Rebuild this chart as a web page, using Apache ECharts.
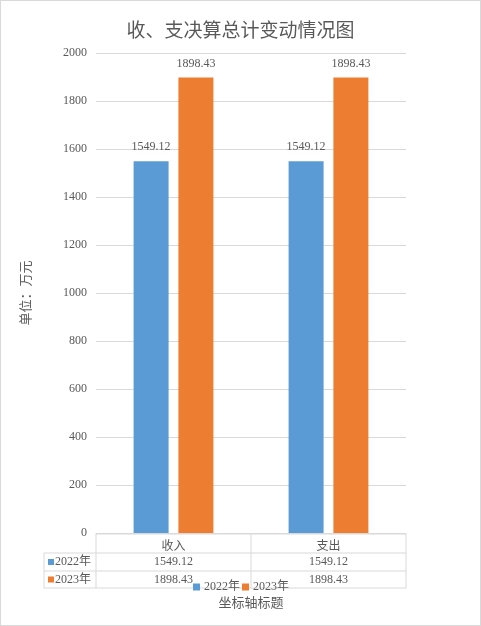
<!DOCTYPE html>
<html><head><meta charset="utf-8">
<script src="https://cdn.jsdelivr.net/npm/echarts@6/dist/echarts.min.js"></script>
<style>html,body{margin:0;padding:0;background:#fff}#c{width:481px;height:626px;box-sizing:border-box;border:1px solid #d9d9d9}</style>
</head><body><div id="c"></div>
<script>
const categories = ['收入', '支出'];
const seriesNames = ['2022年', '2023年'];
const values2022 = [1549.12, 1549.12];
const values2023 = [1898.43, 1898.43];
const yTicks = [0, 200, 400, 600, 800, 1000, 1200, 1400, 1600, 1800, 2000];
const colors = ['#5B9BD5', '#ED7D31'];
const FONT = "Liberation Serif, Noto Sans CJK SC, serif";
const TXT = '#595959';
const LINE = '#D9D9D9';

const chart = echarts.init(document.getElementById('c'));
const labelCfg = {show: true, position: 'top', distance: 8, color: TXT, fontSize: 12, fontFamily: FONT, formatter: p => p.value.toFixed(2)};
chart.setOption({
  animation: false,
  textStyle: {fontFamily: FONT},
  title: {text: '收、支决算总计变动情况图', left: 'center', top: 17, textStyle: {color: TXT, fontSize: 19, fontWeight: 'normal', fontFamily: FONT}},
  legend: {left: 187, top: 575, itemWidth: 7, itemHeight: 7, itemGap: 2, icon: 'rect', textStyle: {color: TXT, fontSize: 12, fontFamily: FONT, padding: [0,0,0,-1]}, data: seriesNames},
  grid: {left: 95, right: 74, top: 52, bottom: 92},
  xAxis: {type: 'category', data: categories, axisLine: {show: true, lineStyle: {color: LINE}}, axisTick: {show: false},
    axisLabel: {color: TXT, fontSize: 12, fontFamily: FONT, margin: 8},
    name: '坐标轴标题', nameLocation: 'middle', nameGap: 64, nameTextStyle: {color: TXT, fontSize: 13, fontFamily: FONT}},
  yAxis: {type: 'value', min: yTicks[0], max: yTicks[yTicks.length-1], interval: yTicks[1]-yTicks[0],
    axisLine: {show: false}, axisTick: {show: false},
    axisLabel: {color: TXT, fontSize: 12, fontFamily: FONT, margin: 9, formatter: v => '{s|' + v + '}',
      rich: {s: {color: TXT, fontSize: 12, fontFamily: 'Liberation Serif'}}},
    splitLine: {lineStyle: {color: LINE}},
    name: '单位：万元', nameLocation: 'middle', nameGap: 63, nameTextStyle: {color: TXT, fontSize: 13, fontFamily: FONT}},
  series: [
    {name: seriesNames[0], type: 'bar', data: values2022, itemStyle: {color: colors[0]}, barWidth: 35, barGap: '28%', label: labelCfg},
    {name: seriesNames[1], type: 'bar', data: values2023, itemStyle: {color: colors[1]}, barWidth: 35, label: labelCfg}
  ]
});

// data table below the axis
const x0 = chart.convertToPixel({xAxisIndex: 0}, 0);
const x1 = chart.convertToPixel({xAxisIndex: 0}, 1);
const half = (x1 - x0) / 2;
const gl = x0 - half, gm = x0 + half, gr = x1 + half;
const yTop = chart.convertToPixel({yAxisIndex: 0}, 0) + 1;
const r1 = yTop + 19, r2 = r1 + 18, r3 = r2 + 17;
const left = 43;
const els = [];
const ln = (xa, ya, xb, yb) => els.push({type: 'line', shape: {x1: xa, y1: ya, x2: xb, y2: yb}, style: {stroke: LINE, lineWidth: 1}, silent: true});
ln(gl, yTop, gr, yTop);
ln(left, r1, gr, r1); ln(left, r2, gr, r2); ln(left, r3, gr, r3);
ln(left, r1, left, r3); ln(gl, yTop, gl, r3); ln(gm, yTop, gm, r3); ln(gr, yTop, gr, r3);
const rows = [values2022, values2023];
rows.forEach((vals, i) => {
  const yc = (i === 0 ? (r1 + r2) / 2 : (r2 + r3) / 2);
  els.push({type: 'rect', shape: {x: left + 4, y: yc - 3, width: 6, height: 6}, style: {fill: colors[i]}, silent: true});
  els.push({type: 'text', style: {x: left + 11, y: yc, text: seriesNames[i], fill: TXT, fontSize: 12, fontFamily: FONT, textVerticalAlign: 'middle', verticalAlign: 'middle'}, silent: true});
  vals.forEach((v, j) => {
    const xc = chart.convertToPixel({xAxisIndex: 0}, j);
    els.push({type: 'text', style: {x: xc, y: yc, text: v.toFixed(2), fill: TXT, fontSize: 12, fontFamily: FONT, align: 'center', textAlign: 'center', verticalAlign: 'middle', textVerticalAlign: 'middle'}, silent: true});
  });
});
chart.setOption({graphic: {elements: els}});
</script></body></html>
